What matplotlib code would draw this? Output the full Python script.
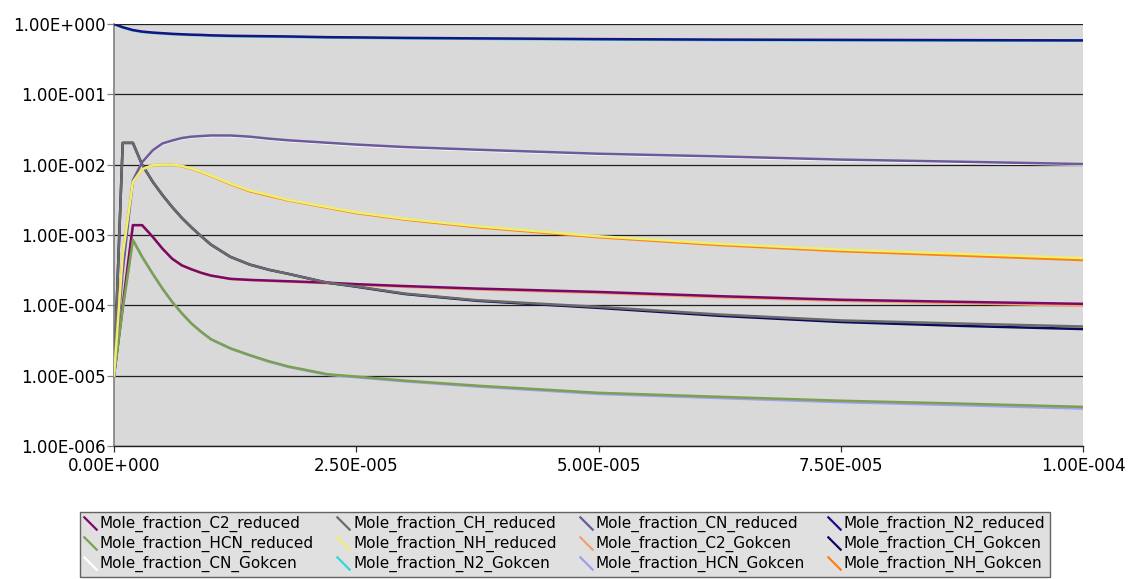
import numpy as np
import matplotlib
matplotlib.use("Agg")
import matplotlib.pyplot as plt
from matplotlib.lines import Line2D
from matplotlib.ticker import FuncFormatter, FixedLocator, NullLocator

# time, read in microseconds
t_us = [0, 0.9, 1.95, 2.9, 4, 5, 6, 7, 8, 9, 10, 12, 14, 16, 18, 22, 25, 30, 37.5, 50, 62.5, 75, 87.5, 100]

# reduced mechanism
c2_red = [1e-5, 9.8e-5, 1.38e-3, 1.38e-3, 9.4e-4, 6.4e-4, 4.6e-4, 3.7e-4, 3.25e-4, 2.9e-4, 2.65e-4, 2.38e-4,
          2.3e-4, 2.25e-4, 2.2e-4, 2.1e-4, 2.0e-4, 1.88e-4, 1.73e-4, 1.55e-4, 1.35e-4, 1.2e-4, 1.12e-4, 1.05e-4]
ch_red = [1e-5, 2.04e-2, 2.04e-2, 1.0e-2, 5.7e-3, 3.7e-3, 2.5e-3, 1.75e-3, 1.28e-3, 9.6e-4, 7.3e-4, 4.9e-4,
          3.8e-4, 3.2e-4, 2.8e-4, 2.1e-4, 1.86e-4, 1.47e-4, 1.18e-4, 9.5e-5, 7.4e-5, 6.1e-5, 5.5e-5, 5.0e-5]
cn_red = [1e-5, 3.0e-4, 6.0e-3, 1.08e-2, 1.6e-2, 2.0e-2, 2.2e-2, 2.39e-2, 2.5e-2, 2.55e-2, 2.6e-2, 2.6e-2,
          2.5e-2, 2.34e-2, 2.22e-2, 2.05e-2, 1.93e-2, 1.78e-2, 1.63e-2, 1.43e-2, 1.31e-2, 1.18e-2, 1.1e-2, 1.02e-2]
n2_red = [1.0, 0.9, 0.82, 0.78, 0.755, 0.74, 0.725, 0.715, 0.705, 0.70, 0.69, 0.68,
          0.675, 0.67, 0.665, 0.65, 0.645, 0.635, 0.625, 0.61, 0.60, 0.595, 0.59, 0.585]
hcn_red = [1e-5, 9.0e-5, 8.5e-4, 4.9e-4, 2.8e-4, 1.73e-4, 1.12e-4, 7.7e-5, 5.5e-5, 4.2e-5, 3.3e-5, 2.45e-5,
           1.96e-5, 1.6e-5, 1.35e-5, 1.05e-5, 9.7e-6, 8.5e-6, 7.2e-6, 5.7e-6, 5.0e-6, 4.4e-6, 4.0e-6, 3.6e-6]
nh_red = [1e-5, 5.2e-4, 5.7e-3, 8.6e-3, 9.8e-3, 1.0e-2, 1.0e-2, 9.6e-3, 8.8e-3, 7.9e-3, 7.0e-3, 5.4e-3,
          4.3e-3, 3.7e-3, 3.15e-3, 2.5e-3, 2.1e-3, 1.7e-3, 1.33e-3, 9.6e-4, 7.5e-4, 6.2e-4, 5.4e-4, 4.7e-4]

# Gokcen mechanism
c2_gok = [1e-5, 9.8e-5, 1.38e-3, 1.38e-3, 9.4e-4, 6.4e-4, 4.6e-4, 3.7e-4, 3.25e-4, 2.9e-4, 2.65e-4, 2.37e-4,
          2.28e-4, 2.22e-4, 2.17e-4, 2.06e-4, 1.96e-4, 1.83e-4, 1.68e-4, 1.5e-4, 1.3e-4, 1.16e-4, 1.07e-4, 9.9e-5]
ch_gok = [1e-5, 2.04e-2, 2.04e-2, 1.0e-2, 5.7e-3, 3.7e-3, 2.5e-3, 1.75e-3, 1.28e-3, 9.6e-4, 7.3e-4, 4.9e-4,
          3.8e-4, 3.2e-4, 2.8e-4, 2.1e-4, 1.84e-4, 1.45e-4, 1.16e-4, 9.2e-5, 7.1e-5, 5.8e-5, 5.1e-5, 4.6e-5]
cn_gok = [1e-5, 3.0e-4, 5.9e-3, 1.06e-2, 1.57e-2, 1.96e-2, 2.16e-2, 2.35e-2, 2.46e-2, 2.5e-2, 2.55e-2, 2.55e-2,
          2.45e-2, 2.3e-2, 2.18e-2, 2.0e-2, 1.88e-2, 1.74e-2, 1.59e-2, 1.4e-2, 1.28e-2, 1.15e-2, 1.07e-2, 1.0e-2]
n2_gok = [1.0, 0.89, 0.81, 0.77, 0.745, 0.73, 0.715, 0.705, 0.695, 0.69, 0.68, 0.67,
          0.665, 0.66, 0.655, 0.64, 0.635, 0.625, 0.615, 0.60, 0.59, 0.585, 0.58, 0.578]
hcn_gok = [1e-5, 9.0e-5, 8.5e-4, 4.9e-4, 2.8e-4, 1.73e-4, 1.12e-4, 7.7e-5, 5.5e-5, 4.2e-5, 3.3e-5, 2.43e-5,
           1.94e-5, 1.58e-5, 1.33e-5, 1.03e-5, 9.5e-6, 8.3e-6, 7.0e-6, 5.5e-6, 4.8e-6, 4.2e-6, 3.8e-6, 3.4e-6]
nh_gok = [1e-5, 5.2e-4, 5.7e-3, 8.6e-3, 9.8e-3, 1.0e-2, 1.0e-2, 9.5e-3, 8.7e-3, 7.8e-3, 6.9e-3, 5.3e-3,
          4.2e-3, 3.6e-3, 3.1e-3, 2.45e-3, 2.05e-3, 1.66e-3, 1.29e-3, 9.3e-4, 7.2e-4, 5.9e-4, 5.1e-4, 4.4e-4]

labels = ["Mole_fraction_C2_reduced", "Mole_fraction_CH_reduced", "Mole_fraction_CN_reduced",
          "Mole_fraction_N2_reduced", "Mole_fraction_HCN_reduced", "Mole_fraction_NH_reduced",
          "Mole_fraction_C2_Gokcen", "Mole_fraction_CH_Gokcen", "Mole_fraction_CN_Gokcen",
          "Mole_fraction_N2_Gokcen", "Mole_fraction_HCN_Gokcen", "Mole_fraction_NH_Gokcen"]
series = [c2_red, ch_red, cn_red, n2_red, hcn_red, nh_red,
          c2_gok, ch_gok, cn_gok, n2_gok, hcn_gok, nh_gok]
colors = ["#7a0868", "#6a6a6a", "#6c5a9a", "#1a1280", "#7aa050", "#eeee70",
          "#f4a070", "#0a0a5c", "#ffffff", "#30d8d8", "#a0a0f0", "#ff8010"]

t = np.array(t_us) * 1e-6

fig = plt.figure(figsize=(11.32, 5.79), dpi=100)
ax = fig.add_axes([114/1132, 1-446/579, (1083-114)/1132, (446-24)/579])
ax.set_facecolor("#d9d9d9")

# Gokcen behind, reduced on top
for i in range(6, 12):
    ax.plot(t, series[i], color=colors[i], lw=1.8, zorder=2)
for i in range(6):
    ax.plot(t, series[i], color=colors[i], lw=1.8, zorder=3)

ax.set_yscale("log")
ax.set_ylim(1e-6, 1.0)
ax.set_xlim(0, 1e-4)

def fmt(v, pos):
    if v == 0:
        return "0.00E+000"
    e = int(np.floor(np.log10(abs(v)) + 1e-9))
    m = v / 10**e
    return "%.2fE%+04d" % (m, e)

ax.yaxis.set_major_locator(FixedLocator([1e-6, 1e-5, 1e-4, 1e-3, 1e-2, 1e-1, 1.0]))
ax.yaxis.set_minor_locator(NullLocator())
ax.yaxis.set_major_formatter(FuncFormatter(fmt))
ax.xaxis.set_major_locator(FixedLocator([0, 2.5e-5, 5e-5, 7.5e-5, 1e-4]))
ax.xaxis.set_major_formatter(FuncFormatter(fmt))

ax.grid(axis="y", color="#202020", lw=0.9, zorder=1)
ax.set_axisbelow(True)
ax.tick_params(axis="y", labelsize=12, length=5, width=0.9, color="#808080", pad=1)
ax.tick_params(axis="x", labelsize=12, length=4, width=0.9, color="#303030", pad=4)
ax.spines["top"].set_visible(False)
ax.spines["right"].set_visible(False)
ax.spines["left"].set_color("#808080")
ax.spines["left"].set_linewidth(1.2)
ax.spines["bottom"].set_color("#202020")
ax.spines["bottom"].set_linewidth(1.0)

# legend with short diagonal strokes, filled row by row
handles = [Line2D([], [], linestyle="none", marker=[(-1, 1), (1, -1)], markersize=10,
                  markeredgewidth=1.6, color=c) for c in colors]
order = [0, 4, 8, 1, 5, 9, 2, 6, 10, 3, 7, 11]
leg = fig.legend([handles[k] for k in order], [labels[k] for k in order], ncol=4,
                 loc="lower left", bbox_to_anchor=(80/1132, 2/579, 970/1132, 78/579),
                 mode="expand", fontsize=11, frameon=True, fancybox=False,
                 handlelength=0.7, handletextpad=0.3, columnspacing=0.6,
                 labelspacing=0.25, borderpad=0.3, borderaxespad=0)
leg.get_frame().set_facecolor("#d9d9d9")
leg.get_frame().set_edgecolor("#404040")
leg.get_frame().set_linewidth(1.0)

fig.savefig("out.png", dpi=100)
